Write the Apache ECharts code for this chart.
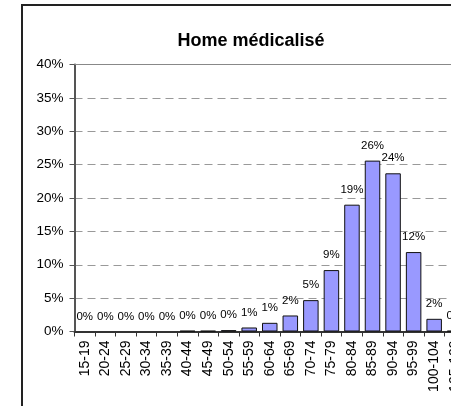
<!DOCTYPE html>
<html>
<head>
<meta charset="utf-8">
<script src="https://cdn.jsdelivr.net/npm/echarts@6/dist/echarts.min.js"></script>
<style>
html,body{margin:0;padding:0;background:#fff;overflow:hidden;width:451px;height:406px;}
#c{width:500px;height:406px;}
</style>
</head>
<body>
<div id="c"></div>
<script>
const chartTitle = 'Home médicalisé';
const categories = ['15-19','20-24','25-29','30-34','35-39','40-44','45-49','50-54','55-59','60-64','65-69','70-74','75-79','80-84','85-89','90-94','95-99','100-104','105-109'];
const values = [0, 0, 0, 0, 0, 0.1, 0.1, 0.2, 0.6, 1.3, 2.4, 4.7, 9.2, 19.0, 25.6, 23.7, 11.9, 1.9, 0.1];
const yTicks = [0, 5, 10, 15, 20, 25, 30, 35, 40];

const chart = echarts.init(document.getElementById('c'), null, {renderer: 'canvas'});
const font = 'Liberation Sans, Arial, sans-serif';

const barData = values.map(v => v === 0 ? {value: v, itemStyle: {borderWidth: 0}} : v);

chart.setOption({
  animation: false,
  backgroundColor: '#fff',
  title: {
    text: chartTitle,
    left: 246,
    top: 27,
    textAlign: 'center',
    textStyle: {fontFamily: font, fontSize: 18, fontWeight: 'bold', color: '#000'}
  },
  graphic: [{
    type: 'rect',
    shape: {x: 22, y: 5, width: 560, height: 460},
    style: {fill: 'none', stroke: '#222', lineWidth: 2},
    silent: true,
    z: 100
  }],
  grid: {left: 74.5, top: 64.5, width: 390.5, height: 267, containLabel: false},
  xAxis: [{
    type: 'category',
    data: categories,
    position: 'bottom',
    axisLine: {lineStyle: {color: '#333', width: 2}},
    axisTick: {show: true, alignWithLabel: false, length: 5, lineStyle: {color: '#333'}},
    axisLabel: {rotate: 90, margin: 9, interval: 0, fontFamily: font, fontSize: 14, color: '#000'},
    splitLine: {show: false}
  }, {
    type: 'category',
    data: categories,
    position: 'top',
    axisLine: {lineStyle: {color: '#888', width: 1}},
    axisTick: {show: false},
    axisLabel: {show: false}
  }],
  yAxis: {
    type: 'value',
    min: 0, max: 40, interval: 5,
    axisLine: {show: true, lineStyle: {color: '#555', width: 2}},
    axisTick: {show: true, length: 5, lineStyle: {color: '#555'}},
    axisLabel: {
      margin: 11, fontFamily: font, fontSize: 13.5, color: '#000',
      formatter: v => yTicks.includes(v) ? v + '%' : ''
    },
    splitLine: {show: true, lineStyle: {color: '#999', type: [8, 5], width: 1}}
  },
  series: [{
    type: 'bar',
    data: barData,
    barWidth: 15.5,
    itemStyle: {color: '#9999FF', borderColor: '#111', borderWidth: 1},
    label: {
      show: true,
      position: 'top',
      distance: 9,
      fontFamily: font,
      fontSize: 11.5,
      color: '#000',
      formatter: p => Math.round(p.value) + '%'
    }
  }]
});
</script>
</body>
</html>
